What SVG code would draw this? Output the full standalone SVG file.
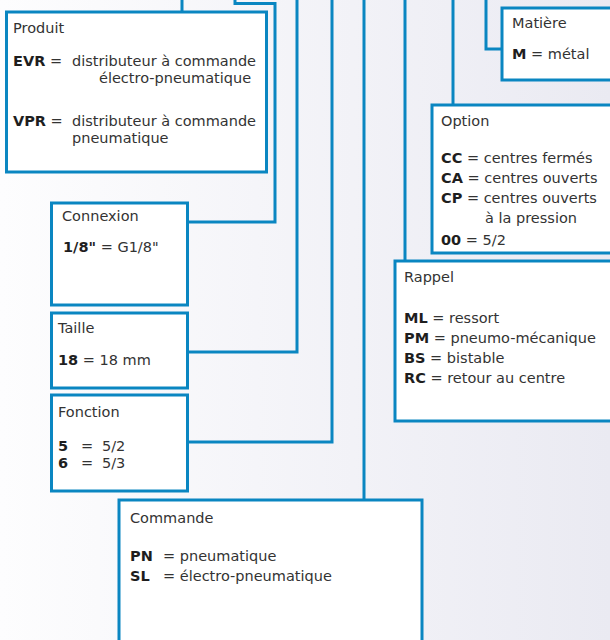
<svg xmlns="http://www.w3.org/2000/svg" width="610" height="640" viewBox="0 0 610 640">
<defs>
<linearGradient id="bg" x1="0" y1="0" x2="1" y2="0">
<stop offset="0" stop-color="#fdfdfe"/>
<stop offset="1" stop-color="#eaeaf2"/>
</linearGradient>
<style>
.box{fill:#ffffff;stroke:#0a86c1;stroke-width:3}
.ln{fill:none;stroke:#0a86c1;stroke-width:3}
text{font-family:"DejaVu Sans","Liberation Sans",sans-serif;font-size:14.5px;fill:#333333}
.b{font-weight:bold;fill:#1e1e1e}
</style>
</defs>
<rect x="0" y="0" width="610" height="640" fill="url(#bg)"/>
<g id="connectors">
<polyline class="ln" points="182,0 182,12"/>
<polyline class="ln" points="235,0 235,3.5 275,3.5 275,222 188,222"/>
<polyline class="ln" points="297,0 297,352 188,352"/>
<polyline class="ln" points="332,0 332,442 188,442"/>
<polyline class="ln" points="364,0 364,500"/>
<polyline class="ln" points="405,0 405,260"/>
<polyline class="ln" points="453,0 453,104"/>
<polyline class="ln" points="486,0 486,49 502,49"/>
</g>
<g id="produit">
<rect class="box" x="6.5" y="12" width="260" height="160"/>
<text x="13" y="33">Produit</text>
<text x="13" y="66"><tspan class="b">EVR</tspan> =</text>
<text x="72" y="66">distributeur à commande</text>
<text x="99" y="83">électro-pneumatique</text>
<text x="13" y="126"><tspan class="b">VPR</tspan> =</text>
<text x="72" y="126">distributeur à commande</text>
<text x="72" y="143">pneumatique</text>
</g>
<g id="connexion">
<rect class="box" x="51.5" y="203" width="136" height="102"/>
<text x="62" y="221">Connexion</text>
<text x="63" y="252"><tspan class="b">1/8"</tspan> = G1/8"</text>
</g>
<g id="taille">
<rect class="box" x="51.5" y="313" width="136" height="75"/>
<text x="58" y="333">Taille</text>
<text x="58" y="365"><tspan class="b">18</tspan> = 18 mm</text>
</g>
<g id="fonction">
<rect class="box" x="51.5" y="395" width="136" height="96"/>
<text x="58" y="417">Fonction</text>
<text x="58" y="451" class="b">5</text>
<text x="81" y="451">=</text>
<text x="102" y="451">5/2</text>
<text x="58" y="468" class="b">6</text>
<text x="81" y="468">=</text>
<text x="102" y="468">5/3</text>
</g>
<g id="commande">
<rect class="box" x="119" y="500" width="303" height="160"/>
<text x="130" y="523">Commande</text>
<text x="130" y="561" class="b">PN</text>
<text x="163" y="561">= pneumatique</text>
<text x="130" y="581" class="b">SL</text>
<text x="163" y="581">= électro-pneumatique</text>
</g>
<g id="matiere">
<rect class="box" x="502" y="8" width="120" height="72"/>
<text x="512" y="28">Matière</text>
<text x="512" y="59"><tspan class="b">M</tspan> = métal</text>
</g>
<g id="option">
<rect class="box" x="432" y="105" width="190" height="148"/>
<text x="441" y="126">Option</text>
<text x="441" y="163"><tspan class="b">CC</tspan> = centres fermés</text>
<text x="441" y="183"><tspan class="b">CA</tspan> = centres ouverts</text>
<text x="441" y="203"><tspan class="b">CP</tspan> = centres ouverts</text>
<text x="485" y="223">à la pression</text>
<text x="441" y="245"><tspan class="b">00</tspan> = 5/2</text>
</g>
<g id="rappel">
<rect class="box" x="395" y="261" width="230" height="160"/>
<text x="404" y="282">Rappel</text>
<text x="404" y="323"><tspan class="b">ML</tspan> = ressort</text>
<text x="404" y="343"><tspan class="b">PM</tspan> = pneumo-mécanique</text>
<text x="404" y="363"><tspan class="b">BS</tspan> = bistable</text>
<text x="404" y="383"><tspan class="b">RC</tspan> = retour au centre</text>
</g>
</svg>
